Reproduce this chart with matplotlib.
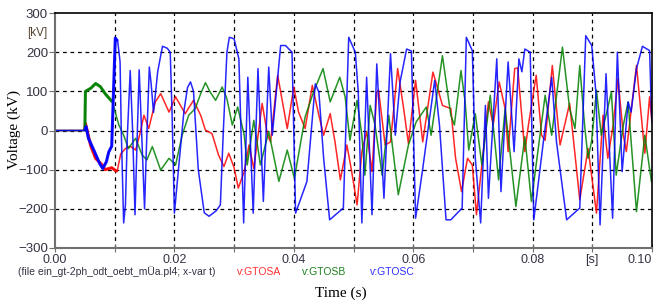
import numpy as np
import matplotlib.pyplot as plt

plt.rcParams['font.family'] = ['Liberation Sans', 'DejaVu Sans']

# time in ms, voltage in kV
t_a = [0, 5.0, 5.1, 6.0, 6.8, 7.9, 8.4, 9.5, 10.4, 11.0, 11.8, 12.6, 13.5, 14.2, 14.9, 15.7,
       16.8, 17.7, 19.1, 20.2, 21.8, 23.2, 24.4, 25.2, 26.3, 27.4, 28.3, 29.1, 30.0, 30.7,
       31.7, 32.5, 33.3, 34.7, 35.6, 36.1, 37.3, 38.1, 38.9, 40.0, 40.8, 41.9, 43.1, 44.2,
       45.0, 46.1, 46.9, 47.8, 48.9, 49.7, 50.6, 51.4, 52.2, 53.1, 53.9, 54.2, 55.3, 56.2,
       57.4, 58.4, 59.2, 60.4, 61.6, 63.3, 64.1, 64.9, 66.3, 67.1, 68.1, 69.1, 69.9, 70.6,
       71.5, 72.6, 73.4, 74.4, 75.4, 75.9, 77.0, 77.5, 78.7, 79.3, 80.6, 81.5, 82.1, 83.3,
       84.6, 86.2, 87.9, 89.3, 90.7, 91.8, 92.6, 93.5, 94.3, 95.2, 95.7, 97.4, 98.8, 99.6, 100]
v_a = [0, 0, 18, -40, -71, -88, -100, -95, -105, -60, -46, -40, -50, -10, 39, 5,
       73, 94, 47, 86, 43, 77, 39, 1, -8, -63, -92, -58, -95, -147,
       -105, -37, -97, 69, -12, -29, 141, 73, 5, 111, 47, 5, 115, 39,
       -12, 43, -29, -126, -37, -105, -190, -54, -3, -105, 98, 103, -37, -29,
       158, 56, -33, 128, -29, 149, 108, 64, 56, -71, -156, -71, -88, -215,
       -88, 73, 14, 124, 56, -54, 158, 160, -54, 14, 141, -12, -25, 166,
       -37, 69, -177, -46, -211, 39, -71, 14, 132, -12, -54, 166, -58, 86, 20]

t_b = [0, 5.0, 5.1, 6.0, 6.8, 7.6, 8.4, 9.6, 10.7, 11.5, 12.3, 13.5, 14.6, 15.4, 16.3,
       17.7, 19.1, 20.2, 21.3, 22.4, 23.5, 24.4, 25.2, 26.0, 26.9, 28.0, 28.8, 29.7,
       30.6, 31.7, 32.2, 33.3, 34.4, 35.8, 37.5, 38.9, 40.1, 41.9, 43.3, 44.9, 46.1,
       47.7, 48.6, 49.4, 50.6, 51.4, 51.9, 52.8, 53.6, 54.8, 55.9, 57.5, 59.2, 60.5,
       62.2, 63.0, 64.9, 66.3, 66.9, 68.0, 68.7, 69.3, 70.4, 71.5, 72.9, 74.3, 75.4,
       76.2, 77.2, 78.7, 79.8, 82.1, 83.2, 85.0, 86.2, 87.1, 87.9, 88.7, 89.3, 89.9,
       90.7, 91.5, 92.3, 93.2, 94.0, 95.2, 96.0, 97.4, 98.8, 99.9]
v_b = [0, 0, 100, 108, 120, 112, 94, 73, 14, -12, -46, -20, -63, -75, -41,
       -101, -71, -88, -12, 39, 56, 94, 122, 98, 77, 111, 81, 14,
       60, -12, -88, 26, -88, -3, -130, -50, -122, 35, 98, 158, 73,
       136, 86, -25, 77, -12, -114, 64, 14, -114, 39, -164, -37, 22,
       60, -12, 191, 39, 14, 153, 73, -50, 43, -88, 90, -126, 56,
       -54, -194, -16, -181, 90, -12, 213, 56, 5, 166, 14, -71, -25,
       103, -12, 39, 98, -114, 14, 73, -207, -12, -130]

t_c = [0, 5.0, 5.2, 5.6, 6.5, 7.5, 8.0, 8.6, 9.0, 9.5, 9.8, 10.1, 10.5, 10.9, 11.1, 11.5,
       11.8, 12.1, 12.6, 13.0, 13.4, 13.8, 14.1, 14.6, 15.0, 15.3, 15.8, 16.1, 16.5, 17.2,
       18.0, 18.8, 19.3, 19.6, 20.0, 20.8, 21.6, 22.2, 22.7, 23.2, 24.0, 25.0, 25.8, 27.0,
       27.7, 28.2, 28.8, 29.2, 30.0, 30.8, 31.6, 32.3, 33.2, 34.0, 34.9, 35.8, 36.4, 37.8,
       38.6, 39.7, 40.3, 42.2, 43.6, 44.2, 45.0, 46.0, 48.3, 49.2, 50.3, 50.8, 51.4, 52.2,
       53.1, 53.9, 55.1, 56.2, 57.0, 57.8, 58.9, 59.7, 60.4, 61.6, 63.6, 64.4, 65.5, 66.3,
       68.2, 68.9, 69.9, 70.4, 71.3, 72.1, 72.6, 74.0, 74.7, 75.9, 76.9, 77.7, 78.2, 78.7,
       79.6, 80.2, 81.8, 83.2, 84.0, 85.7, 87.9, 88.9, 89.9, 90.6, 91.3, 92.3, 93.4, 94.2,
       95.0, 96.0, 96.5, 97.4, 98.4, 99.6, 99.9, 100]
v_c = [0, 0, 10, -20, -50, -85, -97, -80, -55, -40, 100, 236, 228, 175, 0, -236,
       -190, -20, 153, 0, -215, 0, 155, -40, -200, -50, 162, 120, 46, 150,
       215, 210, 200, 50, -211, -80, 50, 110, 124, 100, -100, -210, -219, -205,
       -190, 0, 200, 238, 234, 183, -236, 136, -211, 158, -181, 162, -12, 217,
       217, 200, -211, -130, 119, 98, -71, -228, -198, 238, 200, 98, -236, 136,
       -215, 170, -173, 196, -12, 124, 208, 203, -224, -97, 128, 14, -228, -228,
       -198, 238, 204, -71, -236, 64, -173, 183, -156, 175, -54, 183, 150, 208,
       200, -228, -29, 136, -29, -228, -198, 242, 217, 98, -241, 145, -224, 200,
       -105, 73, 47, 158, 215, 204, 47, 20]

x_ticks = np.arange(0, 0.1001, 0.01)
x_labels = ['0.00', '', '0.02', '', '0.04', '', '0.06', '', '0.08', '[s]', '0.10']
y_ticks = [-300, -200, -100, 0, 100, 200, 300]

fig = plt.figure(figsize=(6.63, 3.04), dpi=100)
ax = fig.add_axes([55 / 663, 1 - 248 / 304, 597 / 663, 235 / 304])

series = [(t_a, v_a, '#ff0000'), (t_b, v_b, '#008000'), (t_c, v_c, '#0000ff')]
for t, v, c in series:
    t = np.array(t) / 1000.0
    v = np.array(v)
    ax.plot(t, v, color=c, lw=1.1, alpha=0.85)
    early = (t >= 0.005) & (t <= 0.0105)
    ax.plot(t[early], v[early], color=c, lw=2.2, alpha=0.9, solid_capstyle='butt')

ax.set_xlim(0, 0.1)
ax.set_ylim(-300, 300)

for x in x_ticks[1:-1]:
    ax.axvline(x, color='black', lw=0.9, ls=(0, (3, 3)), zorder=0)
for y in y_ticks[1:-1]:
    ax.axhline(y, color='black', lw=0.9, ls=(0, (3, 3)), zorder=0)

ax.set_xticks(x_ticks)
ax.set_xticklabels(x_labels)
ax.set_yticks(y_ticks)
ax.tick_params(axis='x', direction='inout', length=6, color='#707070', labelsize=9,
               labelcolor='#333344', pad=1)
ax.tick_params(axis='y', direction='out', length=4, color='#707070', labelsize=9.5,
               labelcolor='#333344', pad=1)
ax.get_xticklabels()[-1].set_horizontalalignment('right')
ax.get_xticklabels()[-1].set_x(0.1)
for s in ['left', 'bottom']:
    ax.spines[s].set_color('#707070')
    ax.spines[s].set_linewidth(1.5)
for s in ['top', 'right']:
    ax.spines[s].set_color('black')
    ax.spines[s].set_linewidth(1.2)

ax.text(-0.0013, 250, '[kV]', ha='right', va='center', fontsize=8.5, color='#554433')
fig.text(14 / 663, 1 - 130 / 304, 'Voltage (kV)', family='Liberation Serif', fontsize=11,
         rotation=90, ha='center', va='center')

fig.text(18 / 663, 1 - 272 / 304, '(file ein_gt-2ph_odt_oebt_mÜa.pl4; x-var t)',
         fontsize=7.5, color='#333344', va='center')
fig.text(237 / 663, 1 - 272 / 304, 'v:GTOSA', fontsize=7.5, color='#ff3030', va='center')
fig.text(302 / 663, 1 - 272 / 304, 'v:GTOSB', fontsize=7.5, color='#208020', va='center')
fig.text(370 / 663, 1 - 272 / 304, 'v:GTOSC', fontsize=7.5, color='#3030ff', va='center')
fig.text(341 / 663, 1 - 293 / 304, 'Time (s)', family='Liberation Serif', fontsize=11,
         ha='center', va='center')

plt.savefig('out.png', dpi=100)
